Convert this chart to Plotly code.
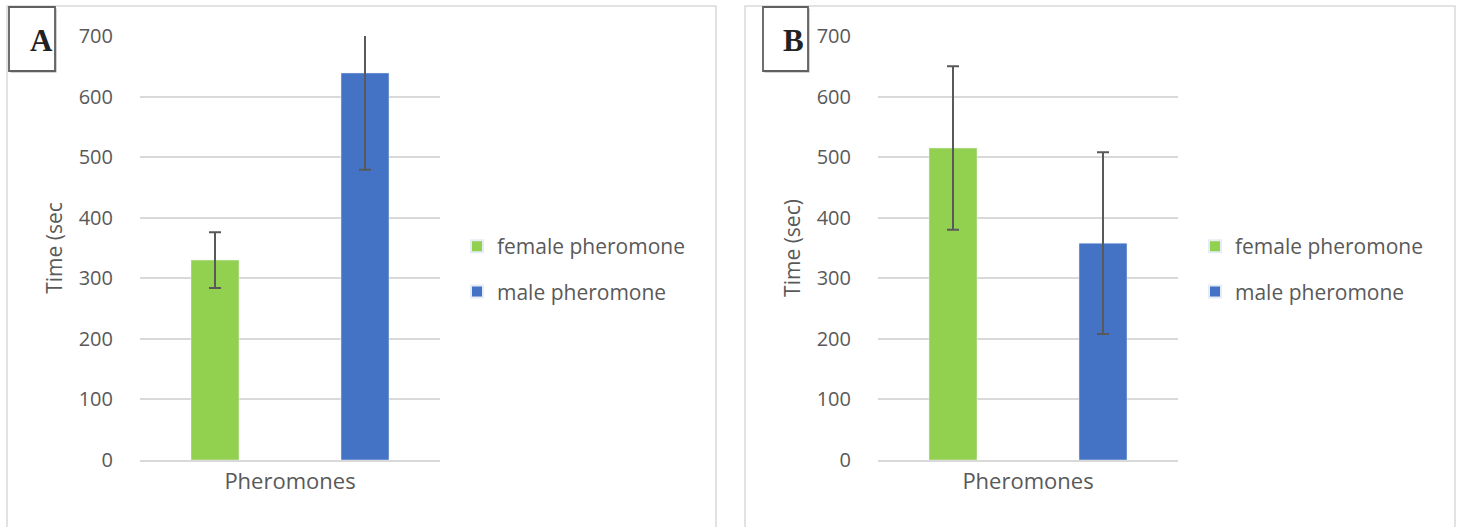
import plotly.graph_objects as go

categories = ["Pheromones"]
series_names = ["female pheromone", "male pheromone"]
colors = ["#92d050", "#4472c4"]

# Panel A
a_values = [330, 639]
a_errors = [46, 160]
# Panel B
b_values = [515, 358]
b_errors = [135, 150]

y_ticks = [0, 100, 200, 300, 400, 500, 600, 700]

W, H = 1460, 527
FONT = "Open Sans"
GREY_TXT = "#595959"

fig = go.Figure()

for i, name in enumerate(series_names):
    fig.add_trace(go.Bar(
        x=categories, y=[a_values[i]], name=name, marker_color=colors[i],
        error_y=dict(type="data", array=[a_errors[i]], color="#595959", thickness=2, width=6),
        xaxis="x", yaxis="y", legend="legend", legendgroup="a" + str(i), offsetgroup=str(i)))
for i, name in enumerate(series_names):
    fig.add_trace(go.Bar(
        x=categories, y=[b_values[i]], name=name, marker_color=colors[i],
        error_y=dict(type="data", array=[b_errors[i]], color="#595959", thickness=2, width=6),
        xaxis="x2", yaxis="y2", legend="legend2", legendgroup="b" + str(i), offsetgroup=str(i)))

y0 = (H - 460) / H
y1 = (H - 36) / H

def yaxis(anchor, title):
    return dict(
        domain=[y0, y1], range=[0, 700], anchor=anchor, automargin=False,
        tickvals=y_ticks, showgrid=True, gridcolor="#d9d9d9", gridwidth=1.5,
        zeroline=False, showline=False,
        ticks="outside", ticklen=22, tickcolor="rgba(0,0,0,0)",
        tickfont=dict(family=FONT, size=20, color=GREY_TXT),
        title=dict(text=title, font=dict(family=FONT, size=21, color=GREY_TXT), standoff=10),
    )

def xaxis(d0, d1, anchor):
    return dict(
        domain=[d0 / W, d1 / W], anchor=anchor, showgrid=False, zeroline=False, automargin=False,
        showline=True, linecolor="#d9d9d9", linewidth=1.5,
        ticks="outside", ticklen=1, tickcolor="rgba(0,0,0,0)",
        tickfont=dict(family=FONT, size=22, color=GREY_TXT),
    )

legend_common = dict(
    font=dict(family=FONT, size=21, color=GREY_TXT), bgcolor="rgba(0,0,0,0)",
    itemsizing="constant", tracegroupgap=15, traceorder="grouped",
    xanchor="left", yanchor="middle", itemwidth=30,
)

fig.update_layout(
    width=W, height=H, margin=dict(l=0, r=0, t=0, b=0, autoexpand=False),
    paper_bgcolor="white", plot_bgcolor="white",
    barmode="group", bargap=0, bargroupgap=0.68,
    xaxis=xaxis(140, 440, "y"),
    yaxis=yaxis("x", "Time (sec"),
    xaxis2=xaxis(878, 1178, "y2"),
    yaxis2=yaxis("x2", "Time (sec)"),
    legend=dict(x=457 / W, y=(H - 269) / H, **legend_common),
    legend2=dict(x=1195 / W, y=(H - 269) / H, **legend_common),
    showlegend=True,
)

shapes = []
# panel frames
for x0p, x1p in [(7, 716), (745, 1455)]:
    shapes.append(dict(type="rect", xref="paper", yref="paper",
                       x0=x0p / W, x1=x1p / W, y0=-0.05, y1=(H - 6) / H,
                       line=dict(color="#d9d9d9", width=1.5), fillcolor="rgba(0,0,0,0)", layer="below"))
# letter boxes with shadow
annotations = []
for letter, bx0, bx1, cx in [("A", 9, 55, 41), ("B", 763, 808, 793)]:
    by0, by1 = 7, 71
    shapes.append(dict(type="rect", xref="paper", yref="paper",
                       x0=(bx0 + 1.5) / W, x1=(bx1 + 1.5) / W, y0=(H - by1 - 1.5) / H, y1=(H - by0 - 1.5) / H,
                       line=dict(width=0), fillcolor="#a6a6a6", layer="above"))
    shapes.append(dict(type="rect", xref="paper", yref="paper",
                       x0=bx0 / W, x1=bx1 / W, y0=(H - by1) / H, y1=(H - by0) / H,
                       line=dict(color="#606060", width=1.8), fillcolor="white", layer="above"))
    annotations.append(dict(text="<b>" + letter + "</b>", xref="paper", yref="paper",
                            x=cx / W, y=(H - 40) / H, showarrow=False,
                            font=dict(family="Liberation Serif", size=31, color="#222222"),
                            xanchor="center", yanchor="middle"))

fig.update_layout(shapes=shapes, annotations=annotations)

fig.write_html("out.html", config={"displayModeBar": False},
               post_script="document.body.style.margin='0';")
